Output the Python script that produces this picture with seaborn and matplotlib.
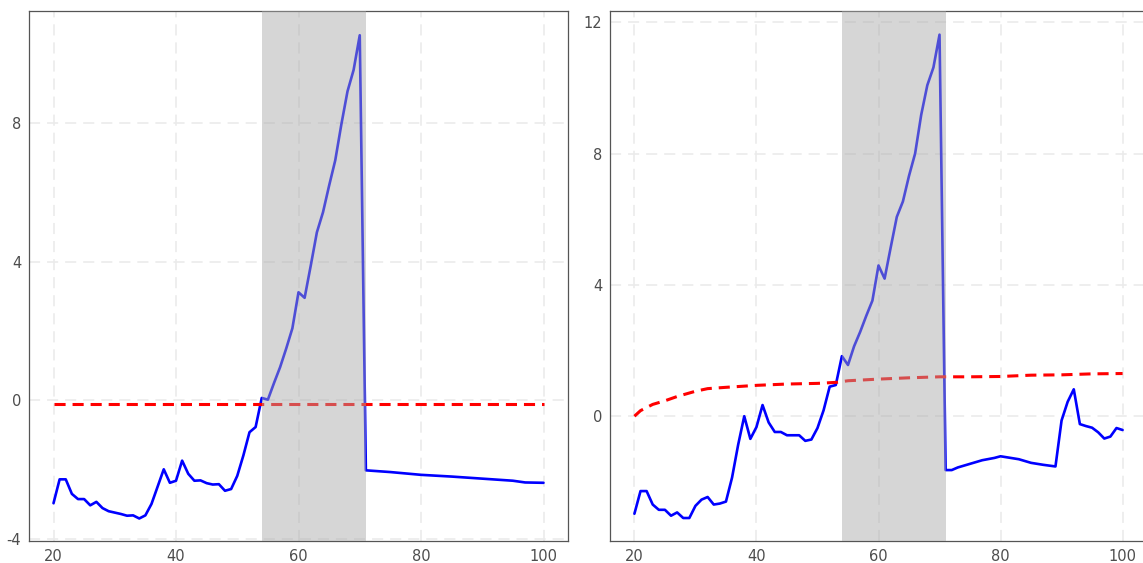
import numpy as np
import pandas as pd
from matplotlib import pyplot as plt
import seaborn as sns

# shaded window
shade_start, shade_end = 54, 71

# left panel: blue solid series
left_x = list(range(20, 72)) + [75, 80, 85, 90, 95, 97, 100]
left_y = [-2.97, -2.28, -2.28, -2.70, -2.85, -2.85, -3.03, -2.93, -3.11, -3.20,
          -3.24, -3.28, -3.33, -3.32, -3.41, -3.32, -2.99, -2.49, -1.99, -2.38,
          -2.32, -1.74, -2.12, -2.32, -2.31, -2.39, -2.43, -2.42, -2.61, -2.56,
          -2.18, -1.59, -0.92, -0.77, 0.07, 0.02, 0.50, 0.96, 1.50, 2.08,
          3.12, 2.96, 3.89, 4.85, 5.43, 6.20, 6.93, 7.97, 8.92, 9.54,
          10.54, -2.02,
          -2.07, -2.15, -2.20, -2.26, -2.32, -2.37, -2.38]
# left panel: red dashed series
left_ref_x = [20, 100]
left_ref_y = [-0.11, -0.11]

# right panel: blue solid series
right_x = list(range(20, 74)) + [75, 77, 79, 80, 81, 83, 85, 87, 89] + list(range(90, 101))
right_y = [-2.97, -2.28, -2.28, -2.69, -2.85, -2.85, -3.03, -2.93, -3.10, -3.10,
           -2.73, -2.54, -2.46, -2.69, -2.66, -2.60, -1.87, -0.87, 0.00, -0.69,
           -0.33, 0.34, -0.19, -0.48, -0.48, -0.58, -0.58, -0.58, -0.75, -0.71,
           -0.36, 0.18, 0.90, 0.95, 1.83, 1.56, 2.13, 2.57, 3.06, 3.52,
           4.59, 4.19, 5.14, 6.07, 6.54, 7.32, 8.00, 9.18, 10.08, 10.62,
           11.62, -1.64, -1.64, -1.56,
           -1.45, -1.34, -1.27, -1.22, -1.25, -1.31, -1.42, -1.48, -1.53,
           -0.13, 0.44, 0.82, -0.24, -0.30, -0.35, -0.49, -0.68, -0.62, -0.36, -0.42]
# right panel: red dashed series
right_ref_x = [20, 21, 23, 25, 27, 30, 32, 35, 40, 45, 50, 53, 55, 60, 65, 70,
               75, 80, 85, 90, 95, 100]
right_ref_y = [0.0, 0.17, 0.36, 0.47, 0.60, 0.76, 0.84, 0.88, 0.94, 0.98, 1.00,
               1.03, 1.08, 1.13, 1.17, 1.20, 1.20, 1.21, 1.25, 1.26, 1.29, 1.30]

x_ticks = [20, 40, 60, 80, 100]
left_yticks = [-4, 0, 4, 8]
right_yticks = [0, 4, 8, 12]

sns.set_style("white")
plt.rcParams['axes.unicode_minus'] = False
plt.rcParams['lines.scale_dashes'] = False

fig = plt.figure(figsize=(11.43, 5.63), dpi=100)
ax_left = fig.add_axes([29 / 1143, 22 / 563, 539 / 1143, 530 / 563])
ax_right = fig.add_axes([610 / 1143, 22 / 563, 537 / 1143, 530 / 563])


def draw_panel(ax, x, y, ref_x, ref_y, yticks, ylim):
    ax.grid(True, color="#EBEBEB", linewidth=1.2, dashes=(8, 5))
    ax.set_axisbelow(True)
    sns.lineplot(x=x, y=y, ax=ax, color="blue", linewidth=1.9, zorder=3)
    sns.lineplot(x=ref_x, y=ref_y, ax=ax, color="red", linewidth=2.2,
                 zorder=3).lines[-1].set_dashes((8, 5))
    # semi-transparent window drawn on top of the lines, like the reference
    span = ax.axvspan(shade_start, shade_end, facecolor="#A8A8A8", alpha=0.47,
                      linewidth=0)
    span.set_zorder(5)
    ax.set_xlim(16, 104)
    ax.set_ylim(*ylim)
    ax.set_xticks(x_ticks)
    ax.set_yticks(yticks)
    ax.set_xlabel("")
    ax.set_ylabel("")
    ax.tick_params(axis="both", length=3.5, width=0.8, color="#333333",
                   labelcolor="#4D4D4D", labelsize=10.5, pad=2)
    for spine in ax.spines.values():
        spine.set_color("#555555")
        spine.set_linewidth(0.9)


draw_panel(ax_left, left_x, left_y, left_ref_x, left_ref_y, left_yticks, (-4.06, 11.24))
draw_panel(ax_right, right_x, right_y, right_ref_x, right_ref_y, right_yticks, (-3.80, 12.34))

plt.savefig("out.png", dpi=100)
